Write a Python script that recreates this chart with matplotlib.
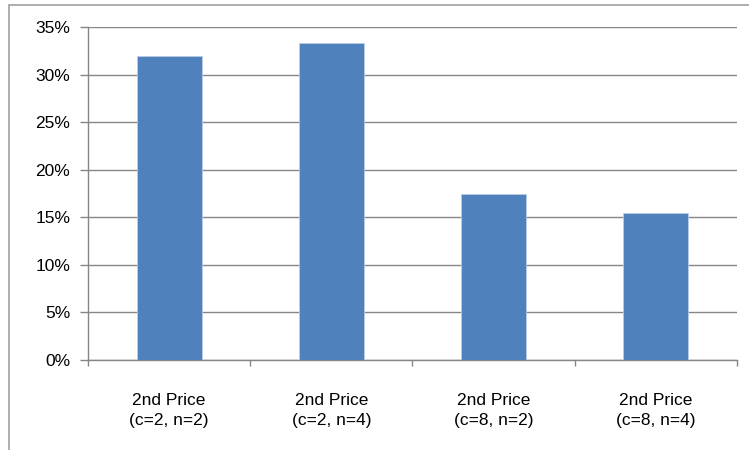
import matplotlib
matplotlib.use("Agg")
import matplotlib.pyplot as plt
from matplotlib.patches import Rectangle
from matplotlib.ticker import FuncFormatter

categories = ["2nd Price\n(c=2, n=2)", "2nd Price\n(c=2, n=4)",
              "2nd Price\n(c=8, n=2)", "2nd Price\n(c=8, n=4)"]
values = [0.320, 0.333, 0.174, 0.154]
y_ticks = [0.0, 0.05, 0.10, 0.15, 0.20, 0.25, 0.30, 0.35]

W, H = 749, 450
fig = plt.figure(figsize=(W / 100, H / 100), dpi=100)
plt.rcParams["font.family"] = ["Liberation Sans", "DejaVu Sans"]

# outer chart frame (extends past the right and bottom edges)
fig.patches.append(Rectangle((9 / W, -0.1), 1.2, 1 - 5 / H + 0.1,
                             transform=fig.transFigure, fill=False,
                             edgecolor="#A0A0A0", linewidth=1.2))

ax = fig.add_axes([88 / W, 1 - 360 / H, (737 - 88) / W, (360 - 27) / H])
x = list(range(len(categories)))
ax.bar(x, values, width=0.4, color="#4F81BD", edgecolor="#B9CDE5",
       linewidth=0.6, zorder=3)

ax.set_xlim(-0.5, len(categories) - 0.5)
ax.set_ylim(0, 0.35)
ax.set_yticks(y_ticks)
ax.yaxis.set_major_formatter(FuncFormatter(lambda v, p: f"{v * 100:.0f}%"))
ax.grid(axis="y", color="#868686", linewidth=1.0, zorder=0)

ax.set_xticks(x)
ax.set_xticklabels(categories, fontsize=12.5, linespacing=1.35)
ax.set_xticks([i - 0.5 for i in range(len(categories) + 1)], minor=True)
ax.tick_params(axis="x", which="major", length=0, pad=24)
ax.tick_params(axis="x", which="minor", length=4.3, color="#868686", width=1.0)
ax.tick_params(axis="y", length=5.8, color="#868686", width=1.0,
               labelsize=12.5, pad=7)

for side in ("top", "right"):
    ax.spines[side].set_visible(False)
for side in ("left", "bottom"):
    ax.spines[side].set_color("#868686")
    ax.spines[side].set_linewidth(1.0)

fig.savefig("out.png", dpi=100)
